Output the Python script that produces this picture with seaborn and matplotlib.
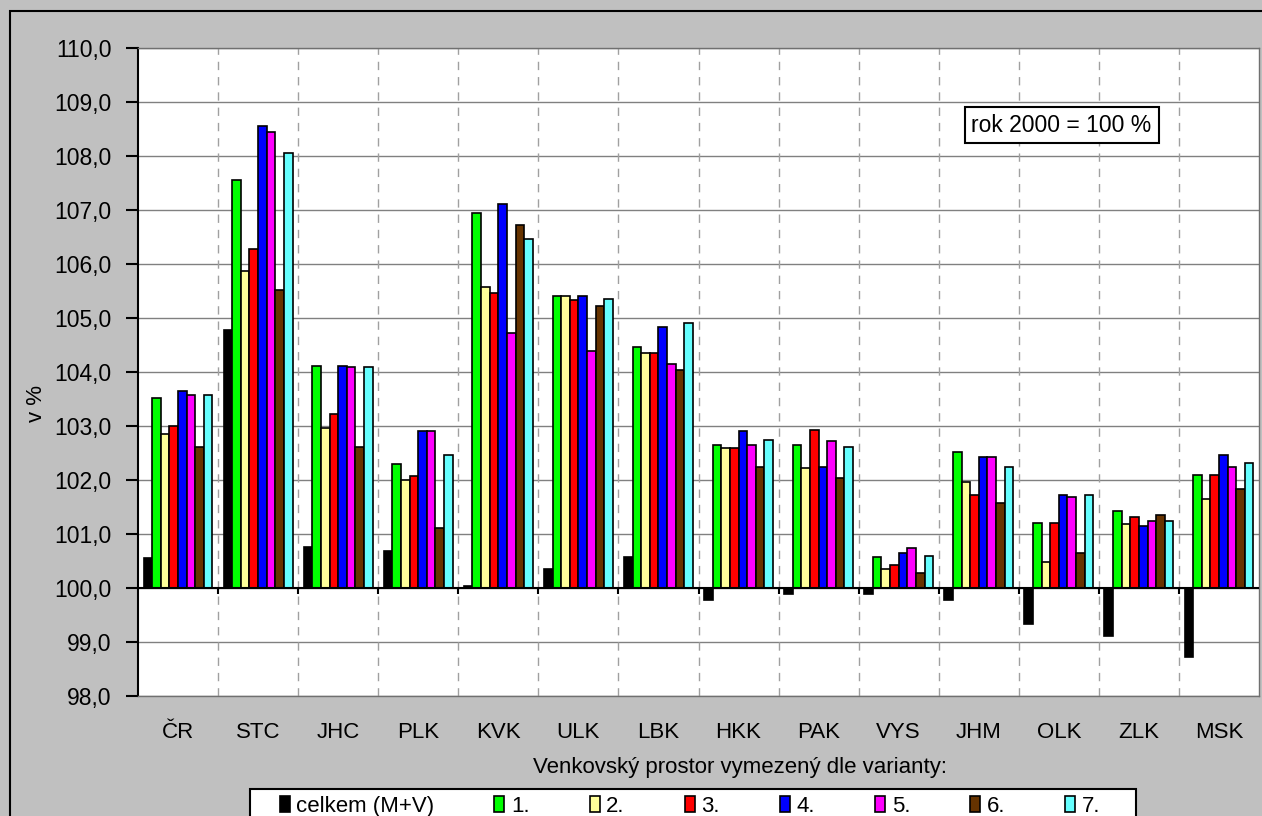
import matplotlib
matplotlib.use("Agg")
import matplotlib.pyplot as plt
from matplotlib.patches import Rectangle
from matplotlib.ticker import FuncFormatter, MultipleLocator
import pandas as pd
import seaborn as sns

# data (index, rok 2000 = 100 %)
regions = ["ČR", "STC", "JHC", "PLK", "KVK", "ULK", "LBK",
           "HKK", "PAK", "VYS", "JHM", "OLK", "ZLK", "MSK"]
variants = ["celkem (M+V)", "1.", "2.", "3.", "4.", "5.", "6.", "7."]
celkem = [100.55, 104.77, 100.76, 100.68, 100.03, 100.35, 100.58,
          99.77, 99.88, 99.88, 99.77, 99.33, 99.12, 98.73]
v1 = [103.51, 107.56, 104.12, 102.29, 106.94, 105.40, 104.47,
      102.64, 102.65, 100.57, 102.51, 101.21, 101.43, 102.10]
v2 = [102.86, 105.87, 102.97, 102.00, 105.58, 105.40, 104.35,
      102.60, 102.22, 100.35, 101.96, 100.49, 101.18, 101.64]
v3 = [103.00, 106.27, 103.23, 102.08, 105.47, 105.33, 104.35,
      102.60, 102.93, 100.43, 101.72, 101.21, 101.32, 102.10]
v4 = [103.65, 108.56, 104.12, 102.90, 107.12, 105.40, 104.83,
      102.90, 102.25, 100.64, 102.43, 101.72, 101.14, 102.47]
v5 = [103.58, 108.45, 104.09, 102.90, 104.72, 104.39, 104.15,
      102.64, 102.72, 100.75, 102.43, 101.68, 101.24, 102.25]
v6 = [102.62, 105.51, 102.62, 101.11, 106.73, 105.22, 104.04,
      102.25, 102.04, 100.28, 101.58, 100.64, 101.35, 101.83]
v7 = [103.58, 108.05, 104.09, 102.47, 106.47, 105.36, 104.90,
      102.75, 102.61, 100.60, 102.25, 101.72, 101.24, 102.32]
colors = ["#000000", "#00FF00", "#FFFF99", "#FF0000",
          "#0000FF", "#FF00FF", "#663300", "#66FFFF"]

BASE = 100.0

rows = []
for name, series in zip(variants, [celkem, v1, v2, v3, v4, v5, v6, v7]):
    for reg, val in zip(regions, series):
        rows.append({"region": reg, "variant": name, "diff": val - BASE})
df = pd.DataFrame(rows)

plt.rcParams["font.family"] = ["Liberation Sans", "DejaVu Sans"]
plt.rcParams["font.size"] = 16

W, H = 1262, 816
fig = plt.figure(figsize=(W / 100, H / 100), dpi=100, facecolor="#C0C0C0")
ax = fig.add_axes([138 / W, 1 - 696 / H, (1259 - 138) / W, (696 - 48) / H])
ax.set_facecolor("white")

sns.barplot(data=df, x="region", y="diff", hue="variant",
            order=regions, hue_order=variants, palette=colors,
            saturation=1, width=0.86, errorbar=None,
            edgecolor="black", linewidth=1.2, ax=ax, zorder=3)

handles, labels = ax.get_legend_handles_labels()
if ax.get_legend() is not None:
    ax.get_legend().remove()

ax.set_xlim(-0.5, len(regions) - 0.5)
ax.set_ylim(98 - BASE, 110 - BASE)
ax.yaxis.set_major_locator(MultipleLocator(1))
ax.yaxis.set_major_formatter(
    FuncFormatter(lambda v, p: f"{v + BASE:.1f}".replace(".", ",")))
ax.yaxis.grid(True, color="#808080", linewidth=1)
ax.set_axisbelow(True)

# dashed separators between categories
for k in range(len(regions) - 1):
    ax.axvline(k + 0.5, color="#A0A0A0", linewidth=1,
               linestyle=(0, (6, 5)), zorder=1)

# category axis at 100 with small ticks
ax.axhline(0, color="black", linewidth=1.5, zorder=4)
ax.vlines([k + 0.5 for k in range(len(regions) - 1)], -0.11, 0,
          color="black", linewidth=1.5, zorder=4)

ax.set_xlabel("")
ax.set_ylabel("")
ax.tick_params(axis="x", length=0, pad=19, labelsize=16)
ax.tick_params(axis="y", length=9, width=1.5, pad=10, labelsize=16.5,
               direction="out")

for side in ["top", "right", "bottom"]:
    ax.spines[side].set_color("#707070")
    ax.spines[side].set_linewidth(1)
ax.spines["left"].set_color("black")
ax.spines["left"].set_linewidth(1.5)

fig.text(36 / W, 1 - 403 / H, "v %", rotation=90, ha="center",
         va="center", fontsize=16)
fig.text(740 / W, 1 - 767 / H, "Venkovský prostor vymezený dle varianty:",
         ha="center", va="center", fontsize=16)

fig.text(1061.5 / W, 1 - 125 / H, "rok 2000 = 100 %", ha="center",
         va="center", fontsize=16.5,
         bbox=dict(boxstyle="square,pad=0.3", facecolor="white",
                   edgecolor="black", linewidth=1.5))

# legend frame drawn separately, entries spread inside it
fig.add_artist(Rectangle((250 / W, -0.1), 886 / W, 0.1 + 1 - 789 / H,
                         transform=fig.transFigure, facecolor="white",
                         edgecolor="black", linewidth=1.5, zorder=5))
leg = fig.legend(handles, labels, ncol=8, loc="upper left",
                 bbox_to_anchor=(273 / W, 1 - 789 / H - 0.06,
                                 834 / W, 0.06),
                 mode="expand", frameon=False,
                 handlelength=0.45, handleheight=0.75, handletextpad=0.3,
                 borderpad=0.3, borderaxespad=0, fontsize=16)
leg.set_zorder(6)

# outer chart border
fig.add_artist(Rectangle((10 / W, -0.1), 1.2, 1.1 - 11 / H,
                         transform=fig.transFigure, fill=False,
                         edgecolor="black", linewidth=1.5))

fig.savefig("out.png", dpi=100, facecolor=fig.get_facecolor())
